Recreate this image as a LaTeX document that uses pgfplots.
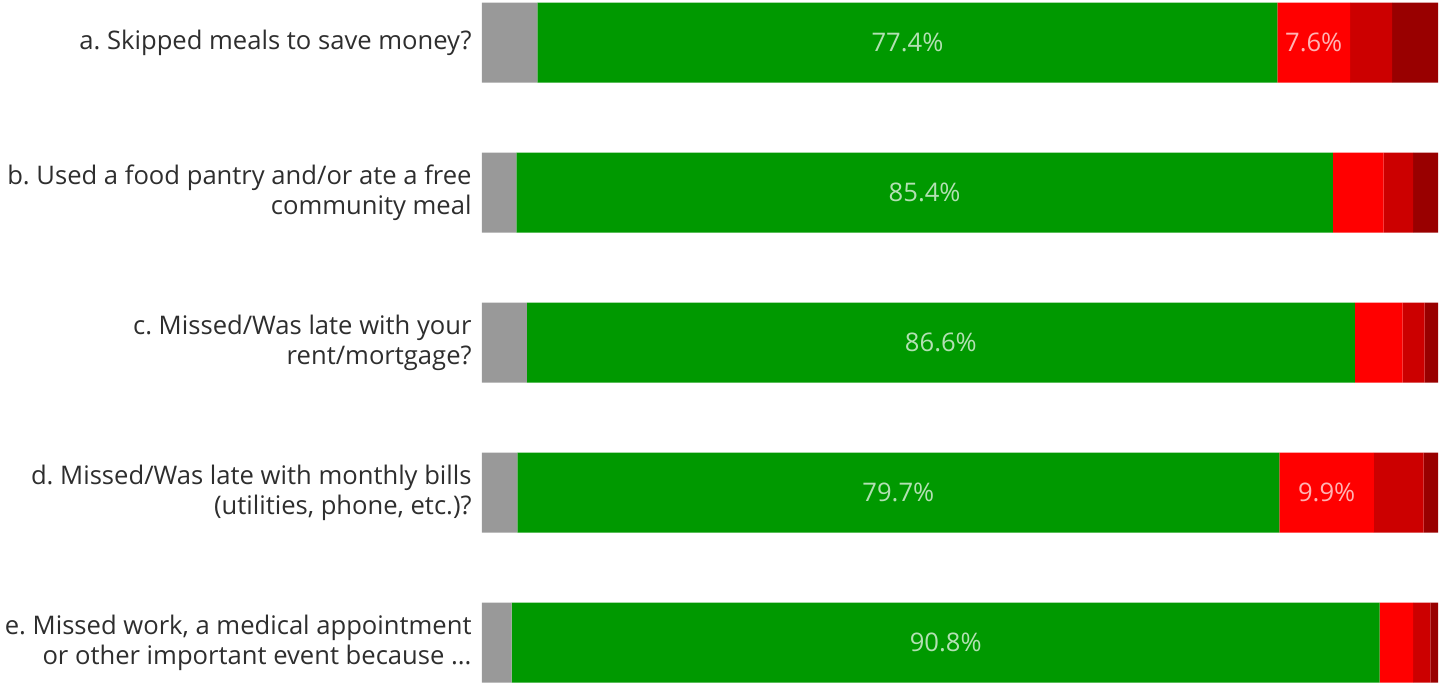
\documentclass[border=0pt]{standalone}
\usepackage{fontspec}
\setmainfont{Open Sans}
\usepackage{pgfplots}
\pgfplotsset{compat=1.18}

\definecolor{cgray}{HTML}{999999}
\definecolor{cgreen}{HTML}{009900}
\definecolor{cred}{HTML}{FF0000}
\definecolor{cdred}{HTML}{CC0000}
\definecolor{cddred}{HTML}{990000}

\begin{document}
\frenchspacing
\begin{tikzpicture}
\useasboundingbox (-241pt,-2pt) rectangle (481pt,341.5pt);
\begin{axis}[at={(0,0)},anchor=south west,scale only axis,
  width=478pt,height=340.5pt,
  xbar stacked,bar width=40pt,
  xmin=0,xmax=100,ymin=-0.27,ymax=4.27,y dir=reverse,
  axis line style={draw=none},tick style={draw=none},
  xtick=\empty,ytick={0,1,2,3,4},
  yticklabels={{a. Skipped meals to save money?},
    {b. Used a food pantry and/or ate a free\\community meal},
    {c. Missed/Was late with your\\rent/mortgage?},
    {d. Missed/Was late with monthly bills\\(utilities, phone, etc.)?},
    {e. Missed work, a medical appointment\\or other important event because .{}.{}.}},
  yticklabel style={align=right,inner sep=0pt,xshift=-5pt,
    font=\fontsize{12.8}{15}\selectfont\frenchspacing,text=black!82},
  point meta=explicit symbolic,
  nodes near coords,
  every node near coord/.append style={anchor=center,
    font=\fontsize{12.8}{14}\selectfont,text=white,text opacity=0.7},
  every axis plot/.append style={draw=none}]
\addplot[fill=cgray] coordinates {(5.8,0) [{}] (3.6,1) [{}] (4.7,2) [{}] (3.7,3) [{}] (3.1,4) [{}]};
\addplot[fill=cgreen] coordinates {(77.4,0) [77.4\%] (85.4,1) [85.4\%] (86.6,2) [86.6\%] (79.7,3) [79.7\%] (90.8,4) [90.8\%]};
\addplot[fill=cred] coordinates {(7.6,0) [7.6\%] (5.3,1) [{}] (5.0,2) [{}] (9.9,3) [9.9\%] (3.5,4) [{}]};
\addplot[fill=cdred] coordinates {(4.4,0) [{}] (3.1,1) [{}] (2.3,2) [{}] (5.2,3) [{}] (1.8,4) [{}]};
\addplot[fill=cddred] coordinates {(4.8,0) [{}] (2.6,1) [{}] (1.4,2) [{}] (1.5,3) [{}] (0.8,4) [{}]};
\end{axis}
\end{tikzpicture}
\end{document}
